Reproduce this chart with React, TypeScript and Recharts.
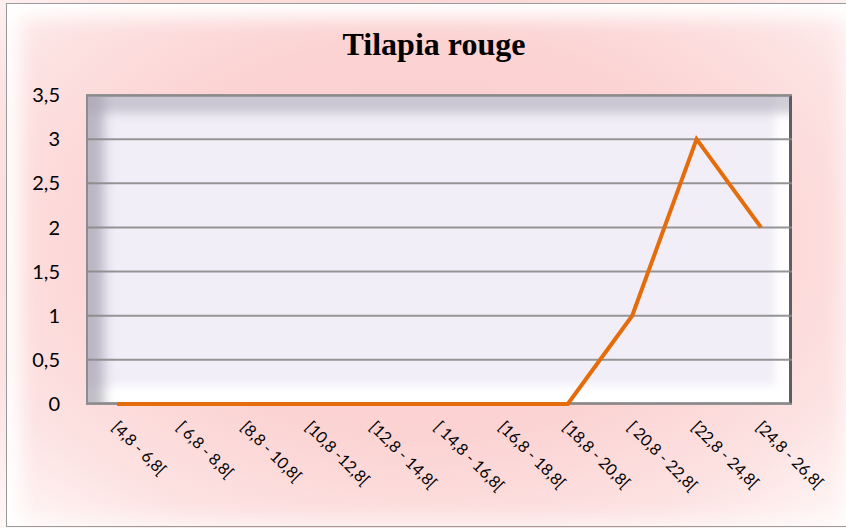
import React from "react";
import { LineChart, Line, XAxis, YAxis, CartesianGrid } from "recharts";

const classes = [
  "[4,8 - 6,8[",
  "[ 6,8 - 8,8[",
  "[8,8 - 10,8[",
  "[10,8 -12,8[",
  "[12,8 - 14,8[",
  "[ 14,8 - 16,8[",
  "[16,8 - 18,8[",
  "[18,8 - 20,8[",
  "[ 20,8 - 22,8[",
  "[22,8 - 24,8[",
  "[24,8 - 26,8[",
];
const counts = [0, 0, 0, 0, 0, 0, 0, 0, 1, 3, 2];
const yTicks = [0, 0.5, 1, 1.5, 2, 2.5, 3, 3.5];

const data = classes.map((c, i) => ({ name: c, value: counts[i] }));

const W = 846;
const H = 528;
const PLOT = { left: 86, top: 95, right: 792, bottom: 404 };

function XTick(props: any) {
  const { x, y, payload } = props;
  const tx = x - 6;
  const ty = y + 16;
  return (
    <text
      x={tx}
      y={ty}
      transform={`rotate(45, ${tx}, ${ty})`}
      textAnchor="start"
      fontSize={16}
      fill="#000"
      fontFamily="Lato, 'Liberation Sans', sans-serif"
    >
      {payload.value}
    </text>
  );
}

export default function App() {
  return (
    <div
      style={{
        position: "absolute",
        left: 0,
        top: 0,
        width: W,
        height: H,
        overflow: "hidden",
        background:
          "radial-gradient(ellipse 70% 75% at 50% 45%, #fbc9c9 0%, #fcd3d3 50%, #fde3e3 80%, #fff6f6 100%)",
      }}
    >
      {/* bevelled frame */}
      <div
        style={{
          position: "absolute",
          left: 6,
          top: 3,
          width: W,
          height: H - 4,
          border: "1px solid #9a9a9a",
          boxSizing: "border-box",
          boxShadow:
            "inset 0 22px 18px -8px rgba(255,255,255,0.95), inset 22px 0 18px -8px rgba(255,255,255,0.9), inset 0 -20px 18px -10px rgba(255,255,255,0.45), inset -20px 0 18px -10px rgba(255,255,255,0.6)",
        }}
      />
      {/* plot area */}
      <div
        style={{
          position: "absolute",
          left: PLOT.left,
          top: PLOT.top,
          width: PLOT.right - PLOT.left,
          height: PLOT.bottom - PLOT.top,
          boxSizing: "border-box",
          background: "#f2eef8",
          borderTop: "2px solid #9a979e",
          borderLeft: "2px solid #8e8b92",
          borderRight: "3px solid #5f5d63",
          borderBottom: "2px solid #9a979e",
          boxShadow:
            "inset 0 28px 10px -12px rgba(170,165,180,0.55), inset 28px 0 12px -12px rgba(150,145,160,0.6), inset 0 -28px 10px -12px rgba(255,255,255,1), inset -26px 0 10px -12px rgba(255,255,255,0.95)",
        }}
      />
      <div
        style={{
          position: "absolute",
          left: 0,
          width: 868,
          top: 25,
          textAlign: "center",
          fontFamily: "'Liberation Serif', 'DejaVu Serif', serif",
          fontWeight: "bold",
          fontSize: 32,
          lineHeight: "38px",
          color: "#000",
        }}
      >
        Tilapia rouge
      </div>
      <LineChart
        width={W}
        height={H}
        data={data}
        margin={{ top: PLOT.top, right: W - PLOT.right, bottom: 14, left: 26 }}
        style={{ position: "absolute", left: 0, top: 0 }}
      >
        <CartesianGrid
          vertical={false}
          stroke="#8a8a8a"
          strokeWidth={2}
          strokeOpacity={0.9}
        />
        <XAxis
          dataKey="name"
          height={110}
          axisLine={false}
          tickLine={false}
          interval={0}
          padding={{ left: 31, right: 31 }}
          tick={<XTick />}
        />
        <YAxis
          width={60}
          domain={[0, 3.5]}
          ticks={yTicks}
          axisLine={false}
          tickLine={false}
          tickSize={0}
          tickMargin={26}
          tickFormatter={(v: number) => String(v).replace(".", ",")}
          tick={{
            fontSize: 20,
            fill: "#000",
            fontFamily: "Lato, 'Liberation Sans', sans-serif",
          }}
        />
        <Line
          type="linear"
          dataKey="value"
          stroke="#e46c0a"
          strokeWidth={4}
          dot={false}
          isAnimationActive={false}
        />
      </LineChart>
    </div>
  );
}
